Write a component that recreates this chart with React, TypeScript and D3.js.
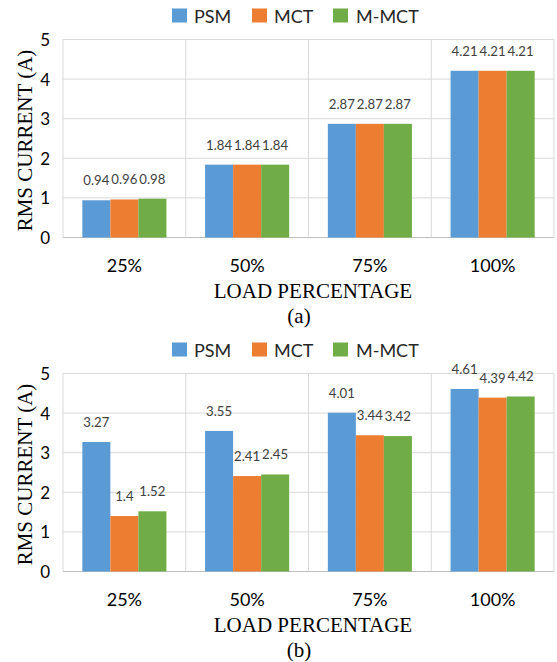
import React from "react";
import * as d3 from "d3";

// Load levels on the x axis
const categories = ["25%", "50%", "75%", "100%"];
// Control methods compared in each group
const seriesNames = ["PSM", "MCT", "M-MCT"];
const seriesColors = ["#5B9BD5", "#ED7D31", "#70AD47"];
const yTicks = [0, 1, 2, 3, 4, 5];

// Panel (a): RMS current per method
const psmA = [0.94, 1.84, 2.87, 4.21];
const mctA = [0.96, 1.84, 2.87, 4.21];
const mmctA = [0.98, 1.84, 2.87, 4.21];

// Panel (b): RMS current per method
const psmB = [3.27, 3.55, 4.01, 4.61];
const mctB = [1.4, 2.41, 3.44, 4.39];
const mmctB = [1.52, 2.45, 3.42, 4.42];

const W = 557;
const H = 662;
const SANS = "Lato, 'Open Sans', sans-serif";
const SERIF = "'Liberation Serif', 'Times New Roman', serif";

type PanelProps = {
  values: number[][];
  top: number; // y of the plot's top edge
  caption: string;
};

function Panel({ values, top, caption }: PanelProps) {
  const left = 63;
  const right = 554;
  const plotH = 198;
  const bottom = top + plotH;

  const x0 = d3.scaleBand<string>().domain(categories).range([left, right]).paddingInner(0).paddingOuter(0);
  const x1 = d3
    .scaleBand<string>()
    .domain(seriesNames)
    .range([0, x0.bandwidth()])
    .paddingInner(0)
    .paddingOuter(0.69);
  const y = d3.scaleLinear().domain([0, 5]).range([bottom, top]);

  const legendY = top - 24;
  const legendItems = [
    { sq: 172, tx: 194 },
    { sq: 252, tx: 274 },
    { sq: 333, tx: 356 },
  ];

  const fmt = (v: number) => String(v);

  return (
    <g>
      {/* legend */}
      {seriesNames.map((s, i) => (
        <g key={s}>
          <rect x={legendItems[i].sq} y={legendY - 7} width={15} height={14} fill={seriesColors[i]} />
          <text
            x={legendItems[i].tx}
            y={legendY}
            dominantBaseline="central"
            fontFamily={SANS}
            fontSize={18}
            fill="#262626"
          >
            {s}
          </text>
        </g>
      ))}

      {/* horizontal gridlines */}
      {yTicks.map((t) => (
        <line
          key={"h" + t}
          x1={left}
          x2={right}
          y1={y(t)}
          y2={y(t)}
          stroke={t === 0 ? "#bfbfbf" : "#d9d9d9"}
          strokeWidth={1}
        />
      ))}
      {/* vertical gridlines at category boundaries, plus plot borders */}
      {categories.map((c) => (
        <line key={"v" + c} x1={x0(c)!} x2={x0(c)!} y1={top} y2={bottom} stroke="#d9d9d9" strokeWidth={1} />
      ))}
      <line x1={right} x2={right} y1={top} y2={bottom} stroke="#d9d9d9" strokeWidth={1} />

      {/* bars */}
      {categories.map((c, ci) =>
        seriesNames.map((s, si) => {
          const v = values[si][ci];
          const bx = x0(c)! + x1(s)!;
          return (
            <rect
              key={c + s}
              x={bx}
              y={y(v)}
              width={x1.bandwidth()}
              height={bottom - y(v)}
              fill={seriesColors[si]}
            />
          );
        })
      )}

      {/* data labels */}
      {categories.map((c, ci) =>
        seriesNames.map((s, si) => {
          const v = values[si][ci];
          const cx = x0(c)! + x1(s)! + x1.bandwidth() / 2;
          return (
            <text
              key={"l" + c + s}
              x={cx}
              y={y(v) - 20}
              textAnchor="middle"
              dominantBaseline="central"
              fontFamily={SANS}
              fontSize={13.2}
              fill="#404040"
            >
              {fmt(v)}
            </text>
          );
        })
      )}

      {/* y tick labels */}
      {yTicks.map((t) => (
        <text
          key={"yt" + t}
          x={50}
          y={y(t)}
          textAnchor="end"
          dominantBaseline="central"
          fontFamily={SANS}
          fontSize={17}
          fill="#000"
        >
          {t}
        </text>
      ))}

      {/* category labels */}
      {categories.map((c) => (
        <text
          key={"xc" + c}
          x={x0(c)! + x0.bandwidth() / 2}
          y={bottom + 27}
          textAnchor="middle"
          dominantBaseline="central"
          fontFamily={SANS}
          fontSize={18}
          fill="#000"
        >
          {c}
        </text>
      ))}

      {/* axis titles */}
      <text
        x={313}
        y={bottom + 53}
        textAnchor="middle"
        dominantBaseline="central"
        fontFamily={SERIF}
        fontSize={21}
        fill="#000"
      >
        LOAD PERCENTAGE
      </text>
      <text
        transform={`translate(25, ${(top + bottom) / 2 + 2}) rotate(-90)`}
        textAnchor="middle"
        dominantBaseline="central"
        fontFamily={SERIF}
        fontSize={21}
        fill="#000"
      >
        RMS CURRENT (A)
      </text>

      {/* panel caption */}
      <text
        x={299}
        y={bottom + 78}
        textAnchor="middle"
        dominantBaseline="central"
        fontFamily={SERIF}
        fontSize={21}
        fill="#000"
      >
        {caption}
      </text>
    </g>
  );
}

export default function App() {
  return (
    <svg
      width={W}
      height={H}
      viewBox={`0 0 ${W} ${H}`}
      style={{ position: "absolute", left: 0, top: 0, background: "#fff" }}
    >
      <rect width={W} height={H} fill="#fff" />
      <Panel values={[psmA, mctA, mmctA]} top={39.5} caption="(a)" />
      <Panel values={[psmB, mctB, mmctB]} top={373.5} caption="(b)" />
    </svg>
  );
}
